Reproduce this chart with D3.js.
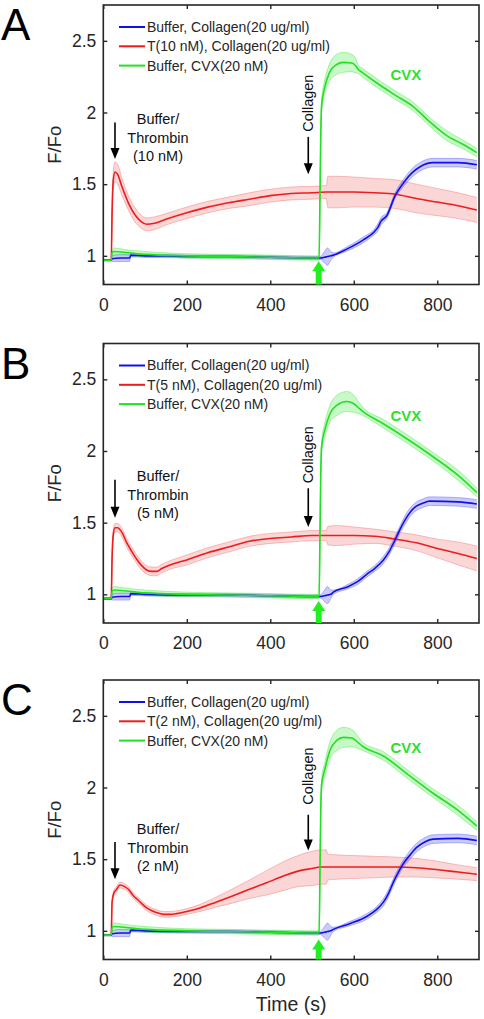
<!DOCTYPE html>
<html><head><meta charset="utf-8">
<script src="https://cdn.jsdelivr.net/npm/d3@7"></script>
<style>body{margin:0;background:#fff} svg{display:block}</style>
</head><body>
<script>
// ---------------- DATA ----------------
const xTicks = [0, 200, 400, 600, 800];
const yTicks = [1, 1.5, 2, 2.5];
const yTickLabels = ["1", "1.5", "2", "2.5"];
const panelLetters = ["A", "B", "C"];
const legendBlue = "Buffer, Collagen(20 ug/ml)";
const legendRed = ["T(10 nM), Collagen(20 ug/ml)", "T(5 nM), Collagen(20 ug/ml)", "T(2 nM), Collagen(20 ug/ml)"];
const legendGreen = "Buffer, CVX(20 nM)";
const thrombinDose = ["(10 nM)", "(5 nM)", "(2 nM)"];

// Panel A
const A_red_t = [0,19,21,24,28,34,45,60,75,90,104,120,150,200,250,300,350,400,450,500,534,538,560,600,650,700,750,800,850,895];
const A_red_v = [0.97,0.97,1.30,1.53,1.585,1.57,1.48,1.37,1.29,1.24,1.22,1.225,1.255,1.30,1.34,1.37,1.395,1.42,1.435,1.44,1.445,1.445,1.445,1.445,1.44,1.43,1.40,1.375,1.35,1.32];
const A_red_e = [0.005,0.005,0.03,0.06,0.07,0.07,0.06,0.05,0.05,0.045,0.045,0.045,0.04,0.04,0.04,0.04,0.045,0.045,0.045,0.045,0.045,0.11,0.11,0.105,0.10,0.10,0.10,0.095,0.09,0.087];
const A_blue_t = [0,19,21,40,63,66,100,150,200,300,400,500,520,530,537,545,551,583,622,650,658,665,679,699,722,740,758,790,850,895];
const A_blue_v = [0.97,0.97,0.98,0.985,0.985,1.005,1.0,1.0,0.995,0.995,0.99,0.985,0.985,0.99,0.995,1.0,1.005,1.047,1.11,1.17,1.20,1.24,1.28,1.42,1.52,1.58,1.62,1.65,1.65,1.635];
const A_blue_e = [0.005,0.005,0.02,0.025,0.025,0.012,0.01,0.01,0.01,0.01,0.01,0.01,0.01,0.04,0.06,0.03,0.015,0.015,0.02,0.02,0.025,0.025,0.02,0.02,0.025,0.03,0.03,0.03,0.03,0.03];
const A_green_t = [0,19,21,25,50,100,200,300,400,500,517,519,521,523,530,542,559,575,595,605,611,620,663,700,743,780,822,860,895];
const A_green_v = [0.97,0.97,1.02,1.03,1.025,1.01,1.0,0.995,0.99,0.985,0.985,1.4,1.85,2.05,2.17,2.28,2.335,2.35,2.345,2.325,2.30,2.28,2.19,2.12,2.04,1.94,1.84,1.78,1.72];
const A_green_e = [0.005,0.005,0.02,0.025,0.02,0.02,0.015,0.015,0.015,0.015,0.015,0.02,0.03,0.04,0.05,0.06,0.07,0.07,0.06,0.05,0.03,0.03,0.03,0.03,0.03,0.03,0.035,0.03,0.03];

// Panel B
const B_red_t = [0,19,21,24,28,34,45,56,68,80,92,104,116,128,140,160,200,250,300,350,400,450,500,525,534,538,560,600,650,700,750,800,850,895];
const B_red_v = [0.97,0.97,1.25,1.42,1.465,1.465,1.43,1.36,1.30,1.245,1.20,1.17,1.16,1.16,1.18,1.205,1.24,1.29,1.33,1.37,1.39,1.40,1.41,1.41,1.41,1.41,1.41,1.41,1.405,1.385,1.36,1.32,1.285,1.25];
const B_red_e = [0.005,0.005,0.02,0.03,0.03,0.03,0.03,0.03,0.03,0.03,0.03,0.03,0.03,0.03,0.03,0.03,0.035,0.035,0.035,0.035,0.035,0.035,0.035,0.035,0.035,0.065,0.07,0.06,0.05,0.05,0.055,0.065,0.08,0.087];
const B_blue_t = [0,19,21,40,63,66,100,200,300,400,500,520,530,537,545,551,583,610,631,650,671,685,699,712,723,737,750,765,782,850,895];
const B_blue_v = [0.97,0.97,0.98,0.985,0.985,1.005,1.0,0.995,0.995,0.99,0.985,0.985,0.99,0.995,1.0,1.015,1.05,1.09,1.14,1.18,1.24,1.30,1.38,1.46,1.52,1.58,1.615,1.635,1.65,1.645,1.63];
const B_blue_e = [0.005,0.005,0.02,0.025,0.025,0.012,0.01,0.01,0.01,0.01,0.01,0.01,0.04,0.06,0.03,0.015,0.015,0.02,0.02,0.02,0.025,0.025,0.025,0.025,0.03,0.03,0.03,0.03,0.03,0.03,0.03];
const B_green_t = [0,19,21,25,50,100,200,300,400,500,517,519,521,523,531,543,560,583,600,612,620,671,730,790,850,895];
const B_green_v = [0.97,0.97,1.02,1.03,1.025,1.01,1.0,0.995,0.99,0.985,0.985,1.4,1.85,2.03,2.15,2.26,2.32,2.345,2.33,2.30,2.28,2.19,2.08,1.96,1.83,1.71];
const B_green_e = [0.005,0.005,0.02,0.025,0.02,0.02,0.015,0.015,0.015,0.015,0.015,0.02,0.03,0.04,0.05,0.06,0.07,0.07,0.06,0.04,0.03,0.03,0.03,0.03,0.035,0.03];

// Panel C
const C_red_t = [0,19,21,25,32,40,50,60,72,85,104,125,144,160,176,200,232,270,311,350,391,430,471,500,520,534,538,560,600,650,700,750,790,850,895];
const C_red_v = [0.97,0.97,1.2,1.26,1.29,1.32,1.31,1.29,1.245,1.21,1.16,1.13,1.115,1.115,1.12,1.135,1.16,1.2,1.245,1.29,1.335,1.38,1.42,1.435,1.445,1.445,1.445,1.445,1.445,1.445,1.445,1.44,1.43,1.41,1.395];
const C_red_e = [0.005,0.005,0.02,0.02,0.02,0.02,0.02,0.02,0.02,0.02,0.02,0.02,0.02,0.02,0.02,0.02,0.025,0.035,0.05,0.065,0.085,0.1,0.11,0.12,0.12,0.12,0.09,0.085,0.08,0.075,0.07,0.065,0.06,0.05,0.045];
const C_blue_t = [0,19,21,40,63,66,100,200,300,400,500,520,530,537,545,551,590,631,655,671,683,695,707,719,735,750,770,790,850,895];
const C_blue_v = [0.97,0.97,0.98,0.985,0.985,1.005,1.0,0.995,0.995,0.99,0.985,0.985,0.99,0.995,1.0,1.01,1.05,1.10,1.15,1.20,1.26,1.34,1.41,1.47,1.53,1.58,1.62,1.64,1.645,1.63];
const C_blue_e = [0.005,0.005,0.02,0.025,0.025,0.012,0.01,0.01,0.01,0.01,0.01,0.01,0.04,0.06,0.03,0.015,0.015,0.02,0.02,0.025,0.025,0.025,0.025,0.025,0.03,0.03,0.03,0.03,0.03,0.03];
const C_green_t = [0,19,21,25,50,100,200,300,400,500,517,519,521,523,531,543,560,575,595,612,620,671,730,790,850,895];
const C_green_v = [0.97,0.97,1.02,1.03,1.025,1.01,1.0,0.995,0.99,0.985,0.985,1.4,1.85,2.02,2.13,2.26,2.33,2.35,2.345,2.31,2.29,2.22,2.09,1.96,1.84,1.73];
const C_green_e = [0.005,0.005,0.02,0.025,0.02,0.02,0.015,0.015,0.015,0.015,0.015,0.02,0.03,0.04,0.05,0.06,0.07,0.07,0.06,0.04,0.03,0.03,0.03,0.03,0.035,0.03];

// Annotation anchors (data coordinates: time, F/Fo)
const thrombinTextT = 131, thrombinTextV = [1.954, 1.823, 1.709];
const thrombinArrowT = 28, thrombinArrowFrom = [1.93, 1.80, 1.62], thrombinArrowTo = [1.675, 1.535, 1.36];
const collagenT = 491, collagenTextV = [2.065, 1.974, 2.08], collagenArrowFrom = [1.83, 1.74, 1.81], collagenArrowTo = [1.57, 1.47, 1.56];
const cvxT = 725, cvxV = [2.26, 2.245, 2.28];
const greenArrowT = 516, greenArrowTip = [0.963, 0.953, 0.94];

// ---------------- DRAW ----------------
const W = 484, H = 1019;
const FONT = "Arial, 'Liberation Sans', Helvetica, sans-serif";
const INK = "#262626";
const COL = {
  blue:  {line: "#1010ee", band: "rgba(70,70,240,0.28)", edge: "rgba(70,70,240,0.45)"},
  red:   {line: "#ee1c1c", band: "rgba(240,90,90,0.25)", edge: "rgba(240,90,90,0.45)"},
  green: {line: "#22e022", band: "rgba(60,230,60,0.28)", edge: "rgba(60,230,60,0.5)"}
};
const panelTop = [5, 343.5, 680], plotH = 279.5, plotL = 103.3, plotR = 479;

const panels = [
  {red: [A_red_t, A_red_v, A_red_e], blue: [A_blue_t, A_blue_v, A_blue_e], green: [A_green_t, A_green_v, A_green_e]},
  {red: [B_red_t, B_red_v, B_red_e], blue: [B_blue_t, B_blue_v, B_blue_e], green: [B_green_t, B_green_v, B_green_e]},
  {red: [C_red_t, C_red_v, C_red_e], blue: [C_blue_t, C_blue_v, C_blue_e], green: [C_green_t, C_green_v, C_green_e]}
];

const svg = d3.select("body").append("svg").attr("width", W).attr("height", H)
  .style("font-family", FONT);
const x = d3.scaleLinear().domain([0, 900]).range([plotL, plotR]);

panels.forEach((p, i) => {
  const top = panelTop[i], bottom = top + plotH;
  const y = d3.scaleLinear().domain([0.8, 2.75]).range([bottom, top]);
  const g = svg.append("g");

  const clipId = "clip" + i;
  svg.append("clipPath").attr("id", clipId).append("rect")
    .attr("x", plotL).attr("y", top).attr("width", plotR - plotL).attr("height", plotH);
  const dg = g.append("g").attr("clip-path", `url(#${clipId})`);

  const order = ["red", "blue", "green"];
  const mk = key => p[key][0].map((t, k) => ({t, v: p[key][1][k], e: p[key][2][k]}));
  const area = d3.area().x(d => x(d.t)).y0(d => y(d.v - d.e)).y1(d => y(d.v + d.e)).curve(d3.curveMonotoneX);
  const line = d3.line().x(d => x(d.t)).y(d => y(d.v)).curve(d3.curveMonotoneX);
  const upper = d3.line().x(d => x(d.t)).y(d => y(d.v + d.e)).curve(d3.curveMonotoneX);
  const lower = d3.line().x(d => x(d.t)).y(d => y(d.v - d.e)).curve(d3.curveMonotoneX);
  order.forEach(key => {
    const data = mk(key);
    dg.append("path").attr("d", area(data)).attr("fill", COL[key].band).attr("stroke", "none");
    [upper, lower].forEach(f => dg.append("path").attr("d", f(data)).attr("fill", "none")
      .attr("stroke", COL[key].edge).attr("stroke-width", 0.8));
  });
  order.forEach(key => {
    dg.append("path").attr("d", line(mk(key))).attr("fill", "none")
      .attr("stroke", COL[key].line).attr("stroke-width", 1.6);
  });

  // axes (inward ticks on all four sides)
  const axB = d3.axisBottom(x).tickValues(xTicks).tickSize(-4).tickPadding(14).tickFormat(d3.format("d"));
  const axT = d3.axisTop(x).tickValues(xTicks).tickSize(-4).tickFormat("");
  const axL = d3.axisLeft(y).tickValues(yTicks).tickSize(-4).tickPadding(7).tickFormat((d, k) => yTickLabels[k]);
  const axR = d3.axisRight(y).tickValues(yTicks).tickSize(-4).tickFormat("");
  const styleAx = sel => {
    sel.select(".domain").remove();
    sel.selectAll(".tick line").attr("stroke", INK).attr("stroke-width", 1.4);
    sel.selectAll(".tick text").attr("fill", INK).style("font-size", "17.5px").style("font-family", FONT);
  };
  g.append("g").attr("transform", `translate(0,${bottom})`).call(axB).call(styleAx);
  g.append("g").attr("transform", `translate(0,${top})`).call(axT).call(styleAx);
  g.append("g").attr("transform", `translate(${plotL},0)`).call(axL).call(styleAx);
  g.append("g").attr("transform", `translate(${plotR},0)`).call(axR).call(styleAx);
  g.append("rect").attr("x", plotL).attr("y", top).attr("width", plotR - plotL).attr("height", plotH)
    .attr("fill", "none").attr("stroke", INK).attr("stroke-width", 1.6);

  // legend
  const legTexts = [legendBlue, legendRed[i], legendGreen];
  ["blue", "red", "green"].forEach((key, k) => {
    const ly = top + 22 + k * 19.3;
    g.append("line").attr("x1", 119).attr("x2", 145).attr("y1", ly).attr("y2", ly)
      .attr("stroke", COL[key].line).attr("stroke-width", 2);
    g.append("text").attr("x", 147).attr("y", ly).attr("dy", "0.35em").attr("fill", INK)
      .style("font-size", "14px").text(legTexts[k]);
  });

  // Buffer/Thrombin annotation
  ["Buffer/", "Thrombin", thrombinDose[i]].forEach((s, k) => {
    g.append("text").attr("x", x(thrombinTextT)).attr("y", y(thrombinTextV[i]) + k * 18.5)
      .attr("dy", "0.35em").attr("text-anchor", "middle").attr("fill", "#111")
      .style("font-size", "14.5px").text(s);
  });
  const downArrow = (xx, y1, y2) => {
    g.append("line").attr("x1", xx).attr("x2", xx).attr("y1", y1).attr("y2", y2 - 9)
      .attr("stroke", "#000").attr("stroke-width", 1.6);
    g.append("path").attr("d", `M${xx - 4.5},${y2 - 11}L${xx + 4.5},${y2 - 11}L${xx},${y2}Z`).attr("fill", "#000");
  };
  downArrow(x(thrombinArrowT), y(thrombinArrowFrom[i]), y(thrombinArrowTo[i]));

  // Collagen annotation
  g.append("text").attr("transform", `translate(${x(collagenT)},${y(collagenTextV[i])}) rotate(-90)`)
    .attr("dy", "0.35em").attr("text-anchor", "middle").attr("fill", "#111")
    .style("font-size", "14.5px").text("Collagen");
  downArrow(x(collagenT), y(collagenArrowFrom[i]), y(collagenArrowTo[i]));

  // CVX label
  g.append("text").attr("x", x(cvxT)).attr("y", y(cvxV[i])).attr("dy", "0.35em")
    .attr("text-anchor", "middle").attr("fill", "#2ee02e").style("font-size", "15px")
    .style("font-weight", "bold").text("CVX");

  // green up arrow
  const gx = x(greenArrowT), tip = y(greenArrowTip[i]);
  g.append("rect").attr("x", gx - 3).attr("y", tip + 9).attr("width", 6).attr("height", bottom - tip - 9)
    .attr("fill", "#22ee22");
  g.append("path").attr("d", `M${gx - 6.5},${tip + 10}L${gx + 6.5},${tip + 10}L${gx},${tip}Z`).attr("fill", "#22ee22");

  // y label
  g.append("text").attr("transform", `translate(55,${(top + bottom) / 2}) rotate(-90)`)
    .attr("dy", "0.35em").attr("text-anchor", "middle").attr("fill", INK)
    .style("font-size", "18.5px").text("F/Fo");

  // panel letter
  svg.append("text").attr("x", 1).attr("y", top + 35).attr("fill", "#000")
    .style("font-size", "44px").text(panelLetters[i]);
});

// x label
svg.append("text").attr("x", (plotL + plotR) / 2).attr("y", 1011).attr("text-anchor", "middle")
  .attr("fill", INK).style("font-size", "19.5px").text("Time (s)");
</script>
</body></html>
